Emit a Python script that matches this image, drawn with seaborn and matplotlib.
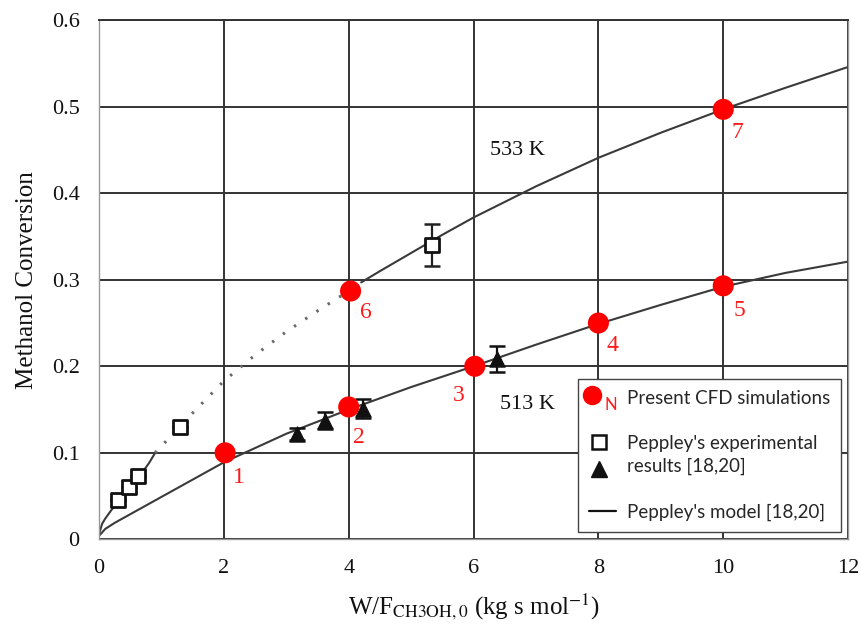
import numpy as np
import pandas as pd
import matplotlib
matplotlib.use("Agg")
import matplotlib.pyplot as plt
from matplotlib.lines import Line2D
from matplotlib.legend_handler import HandlerBase
import seaborn as sns

# Peppley's model, 513 K
model_513_x = [0, 0.1, 0.25, 0.5, 1, 1.5, 2, 3, 4, 5, 6, 7, 8, 9, 10, 11, 12]
model_513_y = [0.004, 0.012, 0.019, 0.029, 0.049, 0.069, 0.089, 0.122, 0.150, 0.176,
               0.200, 0.225, 0.249, 0.271, 0.292, 0.308, 0.321]

# Peppley's model, 533 K (solid low range, dotted mid range, solid upper range)
model_533a_x = [0, 0.05, 0.1, 0.2, 0.35, 0.5, 0.65, 0.8, 0.9]
model_533a_y = [0.006, 0.018, 0.024, 0.034, 0.047, 0.060, 0.073, 0.088, 0.100]
model_533b_x = [0.9, 1.5, 2, 2.5, 3, 3.5, 4, 4.2]
model_533b_y = [0.100, 0.146, 0.183, 0.213, 0.240, 0.264, 0.287, 0.297]
model_533c_x = [4.2, 4.5, 5, 5.5, 6, 7, 8, 9, 10, 11, 12]
model_533c_y = [0.297, 0.310, 0.331, 0.352, 0.372, 0.408, 0.441, 0.470, 0.497, 0.522, 0.546]

# Present CFD simulations
cfd_x = [2.02, 4.0, 6.02, 8.0, 10.0, 4.03, 10.0]
cfd_y = [0.100, 0.153, 0.200, 0.250, 0.293, 0.287, 0.497]
cfd_labels = ["1", "2", "3", "4", "5", "6", "7"]

# Peppley's experimental results, 533 K (squares) and 513 K (triangles)
sq_x = [0.30, 0.48, 0.63, 1.30, 5.34]
sq_y = [0.045, 0.061, 0.073, 0.130, 0.340]
sq_err = [0.0, 0.0, 0.0, 0.0, 0.024]
tri_x = [3.17, 3.62, 4.23, 6.37]
tri_y = [0.122, 0.137, 0.151, 0.208]
tri_err = [0.007, 0.010, 0.011, 0.015]

sns.set_theme(style="white")
plt.rcParams["font.family"] = ["Liberation Serif", "DejaVu Serif"]
plt.rcParams["mathtext.fontset"] = "stix"

fig = plt.figure(figsize=(8.61, 6.33), dpi=100)
ax = fig.add_axes([0.115, 0.148, 0.870, 0.820])

curve_kw = dict(color="#3a3a3a", linewidth=1.5, ax=ax, legend=False, sort=False,
                estimator=None)
sns.lineplot(x=model_513_x, y=model_513_y, **curve_kw)
sns.lineplot(x=model_533a_x, y=model_533a_y, **curve_kw)
sns.lineplot(x=model_533c_x, y=model_533c_y, **curve_kw)
sns.lineplot(x=model_533b_x, y=model_533b_y, color="#6a6a6a", linewidth=2.2,
             linestyle=(0, (0.8, 3.6)), ax=ax, legend=False, sort=False, estimator=None)

# error bars
ax.errorbar(sq_x, sq_y, yerr=sq_err, fmt="none", ecolor="#222222", elinewidth=1.6,
            capsize=6, capthick=1.8, zorder=3)
ax.errorbar(tri_x, tri_y, yerr=tri_err, fmt="none", ecolor="#111111", elinewidth=1.6,
            capsize=6, capthick=1.8, zorder=3)

sns.scatterplot(x=sq_x, y=sq_y, marker="s", s=95, facecolor="white",
                edgecolor="#111111", linewidth=2.0, ax=ax, zorder=4)
sns.scatterplot(x=tri_x, y=tri_y, marker="^", s=120, color="#111111",
                edgecolor="#111111", ax=ax, zorder=4)
sns.scatterplot(x=cfd_x, y=cfd_y, s=230, color="#ff0000", edgecolor="none",
                ax=ax, zorder=5)

# point numbers
label_dx = [0.22, 0.17, -0.25, 0.22, 0.26, 0.25, 0.22]
label_dy = [-0.029, -0.035, -0.034, -0.026, -0.029, -0.025, -0.027]
for x, y, t, dx, dy in zip(cfd_x, cfd_y, cfd_labels, label_dx, label_dy):
    ax.text(x + dx, y + dy, t, color="#ff1a1a", fontsize=17, ha="center", va="center")

ax.text(6.7, 0.449, "533 K", fontsize=16, ha="center", va="center", color="#111111")
ax.text(6.86, 0.156, "513 K", fontsize=16, ha="center", va="center", color="#111111")

ax.set_xlim(0, 12)
ax.set_ylim(0, 0.6)
ax.set_xticks([0, 2, 4, 6, 8, 10, 12])
ax.set_xticklabels(["0", "2", "4", "6", "8", "10", "12"])
ax.set_yticks([0, 0.1, 0.2, 0.3, 0.4, 0.5, 0.6])
ax.set_yticklabels(["0", "0.1", "0.2", "0.3", "0.4", "0.5", "0.6"])
ax.tick_params(axis="both", labelsize=16, length=0, pad=14, colors="#111111")
ax.grid(True, color="#333333", linewidth=1.4)
ax.set_axisbelow(True)
for side in ["left", "bottom", "right"]:
    ax.spines[side].set_color("#999999")
    ax.spines[side].set_linewidth(1.0)
ax.spines["top"].set_color("#333333")
ax.spines["top"].set_linewidth(1.4)

ax.set_xlabel(r"W/F$_{\mathrm{CH3OH,0}}$ (kg s mol$^{\mathrm{-1}}$)", fontsize=18,
              labelpad=10, color="#111111")
ax.set_ylabel("Methanol Conversion", fontsize=18, labelpad=10, color="#111111")


class LeftDot(HandlerBase):
    """Red dot pushed to the left of its handle box."""

    def create_artists(self, legend, orig_handle, xdescent, ydescent, width, height,
                       fontsize, trans):
        dot = Line2D([-xdescent + 0.12 * width], [height / 2 - ydescent + 2],
                     marker="o", color="#ff0000", markersize=13, linestyle="none")
        dot.set_transform(trans)
        return [dot]


class StackedMarkers(HandlerBase):
    """Square above triangle for the two-line experimental entry."""

    def create_artists(self, legend, orig_handle, xdescent, ydescent, width, height,
                       fontsize, trans):
        cx = width * 0.38 - xdescent
        cy = height / 2 - ydescent
        sq = Line2D([cx], [cy + 0.72 * fontsize], marker="s", markerfacecolor="white",
                    markeredgecolor="#111111", markeredgewidth=1.8, markersize=10,
                    linestyle="none")
        tri = Line2D([cx], [cy - 0.72 * fontsize], marker="^", color="#111111",
                     markersize=11, linestyle="none")
        sq.set_transform(trans)
        tri.set_transform(trans)
        return [sq, tri]


cfd_handle = object()
exp_handle = object()
handles = [cfd_handle, exp_handle, Line2D([], [], color="#111111", linewidth=1.6)]
labels = ["Present CFD simulations", "Peppley's experimental\nresults [18,20]",
          "Peppley's model [18,20]"]
leg = ax.legend(handles, labels, loc="lower right", bbox_to_anchor=(0.9907, 0.0144),
                borderaxespad=0,
                handler_map={cfd_handle: LeftDot(), exp_handle: StackedMarkers()},
                frameon=True, fancybox=False, edgecolor="#444444", framealpha=1,
                prop={"family": "Lato", "size": 13.5}, handlelength=1.45,
                handletextpad=0.55, labelspacing=1.5, borderpad=0.6)
leg.get_frame().set_linewidth(1.0)
for t in leg.get_texts():
    t.set_linespacing(1.4)

# subscript "N" beside the legend dot
fig.canvas.draw()
renderer = fig.canvas.get_renderer()
tb = leg.get_texts()[0].get_window_extent(renderer)
inv = fig.transFigure.inverted()
nx, ny = inv.transform((tb.x0 - 9, (tb.y0 + tb.y1) / 2 - 6))
fig.text(nx, ny, "N", color="#ff1a1a", fontsize=12, family="Lato",
         ha="right", va="center", zorder=10)

fig.savefig("out.png", dpi=100)
